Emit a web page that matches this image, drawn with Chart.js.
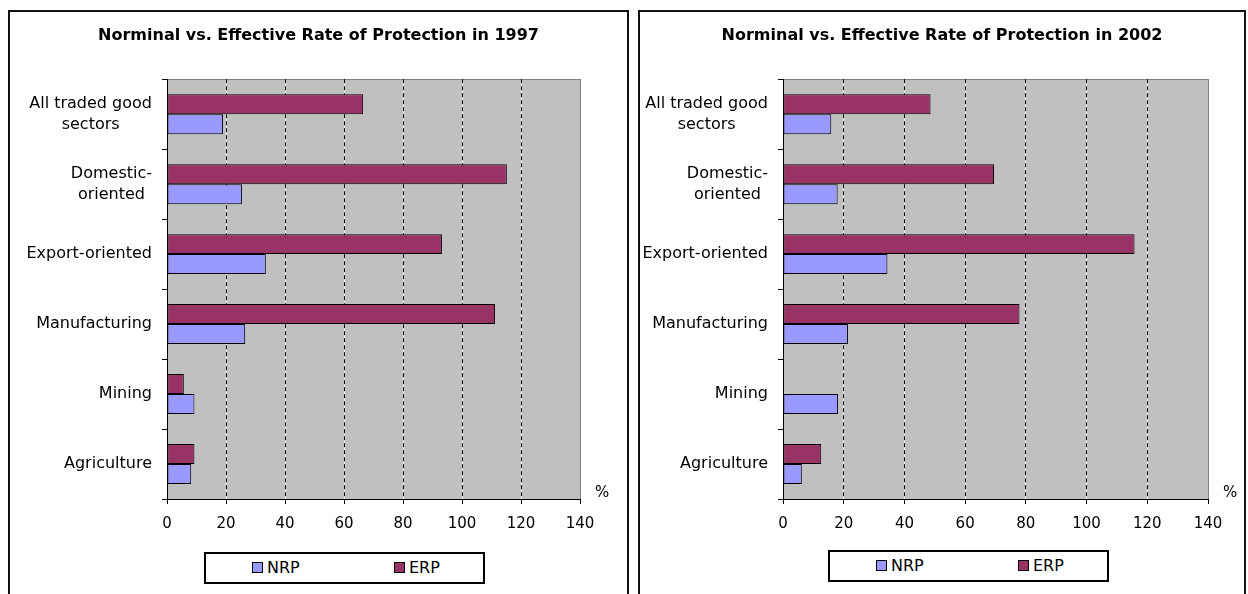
<!DOCTYPE html>
<html>
<head>
<meta charset="utf-8">
<script src="https://cdn.jsdelivr.net/npm/chart.js@4/dist/chart.umd.min.js"></script>
<style>
html,body{margin:0;padding:0;background:#fff;width:1248px;height:594px;overflow:hidden;font-family:"DejaVu Sans",sans-serif;}
.frame{position:absolute;top:10px;height:600px;border:2px solid #111;box-sizing:border-box;background:#fff;}
.frame canvas{position:absolute;left:0;top:0;}
.legend{position:absolute;width:281px;height:32px;border:2px solid #000;box-sizing:border-box;background:#fff;font-size:16px;color:#000;}
.item{position:absolute;top:0;height:26px;display:flex;align-items:center;white-space:nowrap;}
.sw{display:inline-block;width:9px;height:9px;border:1px solid #000;margin-right:4px;}
</style>
</head>
<body>
<div class="frame" style="left:8px;width:621px;"><canvas id="c1" width="617" height="582" style="width:617px;height:582px"></canvas></div>
<div class="frame" style="left:638px;width:608px;"><canvas id="c2" width="604" height="582" style="width:604px;height:582px"></canvas></div>
<div class="legend" id="lg1" style="left:204px;top:552px;"></div>
<div class="legend" id="lg2" style="left:828px;top:550px;"></div>
<script>
// ---- data ----
const categories = [["All traded good","sectors"],["Domestic-","oriented"],["Export-oriented"],["Manufacturing"],["Mining"],["Agriculture"]];
const seriesNames = ["NRP","ERP"];
const seriesColors = {NRP:"#9999FF", ERP:"#993366"};
const nrp1997 = [19.0, 25.4, 33.5, 26.5, 9.3, 8.2];
const erp1997 = [66.5, 115.2, 93.2, 111.2, 5.7, 9.3];
const nrp2002 = [15.9, 18.0, 34.4, 21.4, 18.1, 6.2];
const erp2002 = [48.6, 69.5, 115.8, 77.9, 0, 12.6];
const xTicks = [0, 20, 40, 60, 80, 100, 120, 140];
const titles = ["Norminal vs. Effective Rate of Protection in 1997","Norminal vs. Effective Rate of Protection in 2002"];
const unitLabel = "%";

const xMax = xTicks[xTicks.length-1];
function align(px){ return Math.round(px - 0.5) + 0.5; }

const bgPlugin = {
  id:'bg',
  beforeDraw(chart){
    const {ctx, chartArea:a, scales:{x}} = chart;
    ctx.save();
    ctx.fillStyle = '#C0C0C0';
    ctx.fillRect(a.left, a.top, a.right-a.left, a.bottom-a.top);
    ctx.strokeStyle = '#ffffff'; ctx.lineWidth = 1;
    x.ticks.forEach(t=>{
      if (t.value > xTicks[0] && t.value < xMax){
        const px = align(x.getPixelForValue(t.value));
        ctx.beginPath(); ctx.moveTo(px, a.top); ctx.lineTo(px, a.bottom); ctx.stroke();
      }
    });
    ctx.strokeStyle = '#808080';
    ctx.strokeRect(align(a.left), align(a.top), Math.round(a.right-a.left), Math.round(a.bottom-a.top));
    ctx.restore();
  }
};

const labelPlugin = {
  id:'catLabels',
  afterDraw(chart){
    const {ctx, chartArea:a, scales:{y}} = chart;
    ctx.save();
    ctx.font = '16px "DejaVu Sans"';
    ctx.fillStyle = '#000';
    ctx.textBaseline = 'middle';
    ctx.textAlign = 'center';
    chart.data.labels.forEach((lines,i)=>{
      const cy = y.getPixelForTick(i);
      const w = Math.max(...lines.map(l=>ctx.measureText(l).width));
      const cx = a.left - 15 - w/2;
      const lh = 21.5;
      lines.forEach((l,j)=>ctx.fillText(l, cx, cy + (j-(lines.length-1)/2)*lh));
    });
    ctx.font = '15px "DejaVu Sans"';
    ctx.textAlign = 'left';
    ctx.fillText(unitLabel, a.right + 15, a.bottom - 6);
    ctx.restore();
  }
};

function makeChart(id, title, nrp, erp, yWidth, padRight){
  return new Chart(document.getElementById(id), {
    type:'bar',
    data:{
      labels: categories,
      datasets:[
        {label:seriesNames[1], data:erp, backgroundColor:seriesColors.ERP, borderColor:'#000', borderWidth:1, borderSkipped:false},
        {label:seriesNames[0], data:nrp, backgroundColor:seriesColors.NRP, borderColor:'#000', borderWidth:1, borderSkipped:false}
      ]
    },
    options:{
      indexAxis:'y',
      responsive:false,
      animation:false,
      devicePixelRatio:1,
      datasets:{bar:{categoryPercentage:40/70, barPercentage:1.0}},
      layout:{padding:0},
      plugins:{
        legend:{display:false},
        tooltip:{enabled:false},
        title:{display:true, text:title, color:'#000', font:{family:'"DejaVu Sans"', size:16, weight:'bold'}, padding:{top:14, bottom:34}}
      },
      scales:{
        x:{
          type:'linear', min:xTicks[0], max:xMax,
          afterBuildTicks(s){ s.ticks = xTicks.map(v=>({value:v})); },
          afterFit(s){ s.height = 95; },
          grid:{
            color:(c)=> (c.tick && (c.tick.value===xTicks[0] || c.tick.value===xMax)) ? 'rgba(0,0,0,0)' : '#000',
            tickColor:'#000', tickLength:5, lineWidth:1, drawTicks:true
          },
          border:{display:true, color:'#000', width:1, dash:[4,3]},
          ticks:{color:'#000', font:{family:'"DejaVu Sans"', size:15}, padding:11, maxRotation:0, autoSkip:false}
        },
        y:{
          type:'category',
          afterFit(s){ s.width = yWidth; },
          grid:{drawOnChartArea:false, drawTicks:true, tickLength:5, color:'#000', tickColor:'#000', offset:true},
          border:{display:true, color:'#000', width:1},
          ticks:{display:false}
        },
        yRightGap:{
          type:'category',
          position:'right',
          display:true,
          afterFit(s){ s.width = padRight; },
          grid:{display:false, drawOnChartArea:false, drawTicks:false},
          border:{display:false},
          ticks:{display:false}
        }
      }
    },
    plugins:[bgPlugin, labelPlugin]
  });
}

makeChart('c1', titles[0], nrp1997, erp1997, 157, 47);
makeChart('c2', titles[1], nrp2002, erp2002, 143, 36);

function buildLegend(id){
  const el = document.getElementById(id);
  const offsets = [46, 188];
  seriesNames.forEach((n,i)=>{
    const it = document.createElement('div');
    it.className = 'item';
    it.style.left = offsets[i] + 'px';
    const sw = document.createElement('span');
    sw.className = 'sw';
    sw.style.background = seriesColors[n];
    it.appendChild(sw);
    it.appendChild(document.createTextNode(n));
    el.appendChild(it);
  });
}
buildLegend('lg1');
buildLegend('lg2');
</script>
</body>
</html>
